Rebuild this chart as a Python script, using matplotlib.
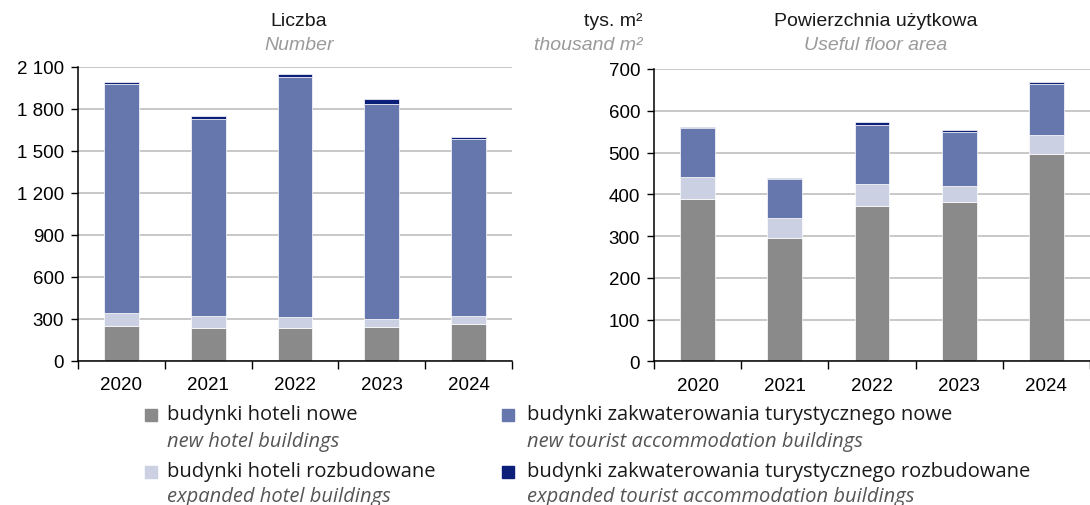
import matplotlib
matplotlib.use("Agg")
import matplotlib.pyplot as plt
from matplotlib.patches import Rectangle
from matplotlib.ticker import FuncFormatter, FixedLocator
import numpy as np

years = ["2020", "2021", "2022", "2023", "2024"]

# Liczba / Number
cnt_hotel_new = [252, 235, 235, 245, 262]
cnt_hotel_exp = [93, 89, 79, 57, 62]
cnt_tour_new = [1631, 1407, 1714, 1536, 1259]
cnt_tour_exp = [17, 19, 19, 36, 20]

# Powierzchnia użytkowa / Useful floor area (thousand m2)
area_hotel_new = [389, 296, 371, 381, 497]
area_hotel_exp = [52, 46, 54, 40, 44]
area_tour_new = [117, 94, 142, 129, 124]
area_tour_exp = [3, 2, 6, 3, 4]

labels_pl = ["budynki hoteli nowe", "budynki hoteli rozbudowane",
             "budynki zakwaterowania turystycznego nowe",
             "budynki zakwaterowania turystycznego rozbudowane"]
labels_en = ["new hotel buildings", "expanded hotel buildings",
             "new tourist accommodation buildings",
             "expanded tourist accommodation buildings"]

colors = ["#8A8A8A", "#CBD0E3", "#6677AD", "#0B1E78"]

W, H = 1090, 506
plt.rcParams['font.family'] = ['Liberation Sans', 'DejaVu Sans']
fig = plt.figure(figsize=(W / 100, H / 100), dpi=100)

def fx(px):
    return px / W

def fy(py):
    return 1 - py / H

def fmt(v, pos):
    return f"{int(round(v)):,}".replace(",", " ")

def draw(ax, series, ymax, ystep):
    x = np.arange(len(years))
    bottom = np.zeros(len(years))
    for vals, c in zip(series, colors):
        ax.bar(x, vals, width=0.40, bottom=bottom, color=c,
               edgecolor="white", linewidth=0.5, zorder=3)
        bottom = bottom + np.array(vals)
    ax.set_ylim(0, ymax)
    ax.set_xlim(-0.5, len(years) - 0.5)
    ax.set_yticks(np.arange(0, ymax + 1, ystep))
    ax.yaxis.set_major_formatter(FuncFormatter(fmt))
    ax.set_xticks(x)
    ax.set_xticklabels(years)
    ax.xaxis.set_minor_locator(FixedLocator(np.arange(-0.5, len(years), 1.0)))
    ax.tick_params(axis="x", which="major", length=0, pad=11, labelsize=13.5)
    ax.tick_params(axis="x", which="minor", length=6, width=1, direction="out", color="black")
    ax.tick_params(axis="y", length=5, width=1, direction="out", labelsize=13.5, pad=5)
    ax.grid(axis="y", color="#C4C4C4", linewidth=1.3, zorder=0)
    for s in ["top", "right"]:
        ax.spines[s].set_visible(False)
    for s in ["left", "bottom"]:
        ax.spines[s].set_color("black")
        ax.spines[s].set_linewidth(1.1)
        ax.spines[s].set_zorder(4)

ax1 = fig.add_axes([fx(78), fy(362), fx(512 - 78), (362 - 68) / H])
draw(ax1, [cnt_hotel_new, cnt_hotel_exp, cnt_tour_new, cnt_tour_exp], 2100, 300)

ax2 = fig.add_axes([fx(654), fy(362.3), fx(1090 - 654), (362.3 - 70) / H])
draw(ax2, [area_hotel_new, area_hotel_exp, area_tour_new, area_tour_exp], 700, 100)

# Titles
tfs = 14
fig.text(fx(299), fy(21), "Liczba", ha="center", va="center", fontsize=tfs, color="#1a1a1a")
fig.text(fx(299), fy(45), "Number", ha="center", va="center", fontsize=tfs,
         style="italic", color="#9A9A9A")
fig.text(fx(876), fy(21), "Powierzchnia użytkowa", ha="center", va="center",
         fontsize=tfs, color="#1a1a1a")
fig.text(fx(876), fy(45), "Useful floor area", ha="center", va="center", fontsize=tfs,
         style="italic", color="#9A9A9A")
fig.text(fx(642), fy(21), "tys. m²", ha="right", va="center", fontsize=tfs, color="#1a1a1a")
fig.text(fx(642), fy(45), "thousand m²", ha="right", va="center", fontsize=tfs,
         style="italic", color="#9A9A9A")

# Legend
leg_font = ['Open Sans', 'DejaVu Sans']
positions = [(145, 167, 415, 442), (145, 167, 472, 497),
             (502, 527, 415, 442), (502, 527, 472, 497)]
for i, (sx, tx, y1, y2) in enumerate(positions):
    sq = 12
    fig.patches.append(Rectangle((fx(sx), fy(y1 + 1 + sq / 2)), sq / W, sq / H,
                                 transform=fig.transFigure, color=colors[i]))
    fig.text(fx(tx), fy(y1), labels_pl[i], ha="left", va="center", fontsize=14.5,
             family=leg_font, color="#1a1a1a")
    fig.text(fx(tx), fy(y2), labels_en[i], ha="left", va="center", fontsize=14.5,
             family=leg_font, style="italic", color="#555555")

fig.savefig("out.png", dpi=100)
